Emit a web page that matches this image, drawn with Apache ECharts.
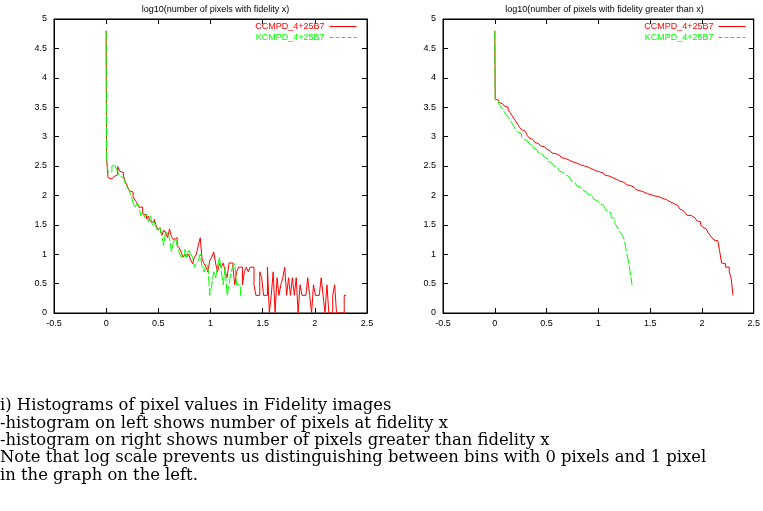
<!DOCTYPE html>
<html><head><meta charset="utf-8">
<script src="https://cdn.jsdelivr.net/npm/echarts@6/dist/echarts.min.js"></script>
<style>html,body{margin:0;padding:0;background:#fff}#c{width:763px;height:511px}</style>
</head><body><div id="c"></div>
<script>
// ---- data ----
const BIN = 0.0184;          // histogram bin width (fidelity units)
const SPIKE_X = 0.004;       // width of the first (zero-fidelity) spike
const seriesNames = ['CCMPD_4+25B7', 'KCMPD_4+25B7'];
const titles = ['log10(number of pixels with fidelity x)', 'log10(number of pixels with fidelity greater than x)'];
const xTicks = [-0.5, 0, 0.5, 1, 1.5, 2, 2.5];
const yTicks = [0, 0.5, 1, 1.5, 2, 2.5, 3, 3.5, 4, 4.5, 5];

// left: log10(count) at fidelity x
const leftRedPeak = 4.8;
const leftRed = [2.62,2.30,2.28,2.29,2.32,2.35,2.49,2.41,2.39,2.33,2.23,2.16,2.08,2.06,1.98,1.92,1.88,1.80,1.80,1.69,
  1.66,1.60,1.65,1.56,1.54,1.59,1.49,1.41,1.45,1.32,1.41,1.36,1.28,1.43,1.30,1.25,1.28,1.15,1.11,1.04,
  0.95,1.00,0.95,1.00,0.90,0.84,0.95,1.00,1.15,1.28,0.90,0.84,0.78,0.70,0.90,0.95,1.04,0.85,0.70,0.84,
  0.78,0.85,0.70,0.60,0.85,0.85,0.78,0.48,0.70,0.78,0.78,0.48,0.70,0.78,0.70,0.78,0.78,0.48,0.30,0.30,
  0.70,0.60,0.30,0.30,0.78,0.00,0.30,0.70,0.00,0.60,0.30,0.48,0.60,0.78,0.30,0.60,0.30,0.60,0.30,0.60,
  0.00,0.48,0.30,0.30,0.30,0.60,0.30,0.00,0.48,0.30,0.30,0.30,0.60,0.30,0.00,0.48,0.00,0.00,0.30,0.48,
  0.00,0.00,0.00,0.00,0.30];
const leftGreenPeak = 4.8;
const leftGreen = [2.62,2.40,2.40,2.50,2.52,2.47,2.40,2.33,2.30,2.28,2.20,2.14,2.08,2.00,1.88,1.79,1.87,1.83,1.65,1.72,
  1.62,1.68,1.55,1.66,1.50,1.55,1.46,1.40,1.45,1.30,1.15,1.40,1.34,1.28,1.04,1.20,1.28,1.15,1.04,0.95,
  0.95,1.08,0.95,1.08,1.00,0.95,0.78,0.85,0.90,1.00,0.78,0.70,0.84,0.78,0.30,0.48,0.70,0.60,0.78,0.95,
  0.70,0.48,0.78,0.30,0.48,0.70,0.78,0.84,0.48,0.48,0.30,0.30];

// right: log10(count) with fidelity greater than x
const rightRedPeak = 4.8;
const rightRed = [3.64,3.62,3.58,3.56,3.55,3.52,3.50,3.45,3.41,3.36,3.31,3.26,3.21,3.16,3.12,3.09,3.06,3.02,2.98,2.95,
  2.92,2.90,2.88,2.86,2.84,2.83,2.81,2.79,2.76,2.74,2.72,2.71,2.69,2.68,2.66,2.64,2.63,2.61,2.60,2.58,
  2.57,2.56,2.55,2.54,2.52,2.51,2.50,2.49,2.48,2.47,2.45,2.44,2.42,2.41,2.40,2.39,2.38,2.36,2.34,2.33,
  2.31,2.30,2.28,2.27,2.25,2.24,2.23,2.22,2.20,2.18,2.17,2.15,2.14,2.12,2.10,2.08,2.07,2.06,2.05,2.03,
  2.02,2.01,2.00,1.99,1.98,1.98,1.97,1.95,1.93,1.93,1.90,1.89,1.88,1.86,1.84,1.83,1.80,1.77,1.74,1.72,
  1.70,1.66,1.66,1.63,1.62,1.60,1.57,1.55,1.50,1.46,1.43,1.40,1.36,1.32,1.28,1.24,1.23,1.23,1.05,0.85,
  0.84,0.78,0.78,0.70,0.60];
const rightRedLast = 0.30;
const rightGreenPeak = 4.8;
const rightGreen = [3.62,3.60,3.56,3.52,3.47,3.42,3.37,3.33,3.28,3.23,3.17,3.12,3.08,3.05,3.00,2.96,2.93,2.91,2.88,2.85,
  2.81,2.78,2.75,2.72,2.70,2.68,2.65,2.62,2.58,2.55,2.52,2.50,2.47,2.44,2.41,2.39,2.37,2.35,2.32,2.29,
  2.25,2.22,2.19,2.16,2.14,2.12,2.09,2.06,2.04,2.02,2.00,1.97,1.93,1.91,1.89,1.86,1.83,1.80,1.77,1.73,
  1.70,1.63,1.60,1.52,1.48,1.41,1.37,1.31,1.24,1.05,0.90,0.70];
const rightGreenLast = 0.48;

const captionLines = [
  'i) Histograms of pixel values in Fidelity images',
  '-histogram on left shows number of pixels at fidelity x',
  '-histogram on right shows number of pixels greater than fidelity x',
  'Note that log scale prevents us distinguishing between bins with 0 pixels and 1 pixel',
  'in the graph on the left.'
];

// ---- build ----
// histogram steps: each bin value held from its start edge to the next edge
function stepData(peak, vals, last) {
  const edges = [0, SPIKE_X];
  for (let k = 1; k <= vals.length; k++) edges.push(k * BIN);
  const levels = [peak].concat(vals);
  const d = [[0, peak]];
  for (let i = 0; i < levels.length; i++) {
    d.push([edges[i], levels[i]]);
    d.push([edges[i + 1], levels[i]]);
  }
  if (last !== undefined) d.push([edges[edges.length - 1], last]);
  return d;
}
const RED = '#ff0000', GREEN = '#00ff00';
const FONT = '"Liberation Sans", Arial, Helvetica, sans-serif';
const grids = [
  {left: 54, top: 19, width: 313, height: 294},
  {left: 443, top: 19, width: 313, height: 294}
].map(g => Object.assign(g, {show: true, borderColor: '#000', borderWidth: 1, backgroundColor: 'transparent'}));

const xAxes = [], yAxes = [];
[0, 1].forEach(i => {
  const base = {type: 'value', gridIndex: i, min: xTicks[0], max: xTicks[xTicks.length - 1], interval: 0.5,
    splitLine: {show: false}, axisLine: {show: true, onZero: false, lineStyle: {color: '#000', width: 1}},
    axisTick: {show: true, inside: true, length: 5, lineStyle: {color: '#000'}}};
  xAxes.push(Object.assign({}, base, {position: 'bottom',
    axisLabel: {color: '#000', fontSize: 9, fontFamily: FONT, margin: 6}}));
  xAxes.push(Object.assign({}, base, {position: 'top', axisLabel: {show: false}}));
  const ybase = {type: 'value', gridIndex: i, min: yTicks[0], max: yTicks[yTicks.length - 1], interval: 0.5,
    splitLine: {show: false}, axisLine: {show: true, onZero: false, lineStyle: {color: '#000', width: 1}},
    axisTick: {show: true, inside: true, length: 5, lineStyle: {color: '#000'}}};
  yAxes.push(Object.assign({}, ybase, {position: 'left',
    axisLabel: {color: '#000', fontSize: 9, fontFamily: FONT, margin: 7}}));
  yAxes.push(Object.assign({}, ybase, {position: 'right', axisLabel: {show: false}}));
});

function mkSeries(name, data, grid, color, dashed) {
  return {name, type: 'line', xAxisIndex: grid * 2, yAxisIndex: grid * 2, data,
    symbol: 'none', animation: false, silent: true, sampling: null, clip: true,
    lineStyle: {color, width: 1, type: dashed ? [10, 2] : 'solid'}, itemStyle: {color}};
}

const series = [
  mkSeries(seriesNames[0], stepData(leftRedPeak, leftRed), 0, RED, false),
  mkSeries(seriesNames[1], stepData(leftGreenPeak, leftGreen), 0, GREEN, true),
  mkSeries(seriesNames[0], stepData(rightRedPeak, rightRed, rightRedLast), 1, RED, false),
  mkSeries(seriesNames[1], stepData(rightGreenPeak, rightGreen, rightGreenLast), 1, GREEN, true)
];

function mkLegend(right) {
  return {orient: 'vertical', right, top: 22, align: 'right', itemWidth: 27, itemHeight: 8, itemGap: 2,
    selectedMode: false, padding: 0, itemStyle: {opacity: 0},
    textStyle: {fontSize: 9, fontFamily: FONT},
    data: [
      {name: seriesNames[0], textStyle: {color: RED}, lineStyle: {color: RED, width: 1, type: 'solid'}},
      {name: seriesNames[1], textStyle: {color: GREEN}, lineStyle: {color: GREEN, width: 1, type: [4, 2]}}
    ]};
}

const graphic = captionLines.map((t, i) => ({type: 'text', left: 0, top: 398 + i * 17.4,
  style: {text: t, fill: '#000', font: '16.4px "DejaVu Serif", serif'}}));

const chart = echarts.init(document.getElementById('c'), null, {renderer: 'canvas'});
chart.setOption({
  animation: false,
  backgroundColor: '#fff',
  title: [
    {text: titles[0], left: 210.5, top: 0, textAlign: 'center', textStyle: {fontSize: 9, fontWeight: 'normal', color: '#000', fontFamily: FONT}},
    {text: titles[1], left: 599.5, top: 0, textAlign: 'center', textStyle: {fontSize: 9, fontWeight: 'normal', color: '#000', fontFamily: FONT}}
  ],
  grid: grids,
  xAxis: xAxes,
  yAxis: yAxes,
  legend: [mkLegend(406), mkLegend(17)],
  graphic,
  series
});
</script></body></html>
